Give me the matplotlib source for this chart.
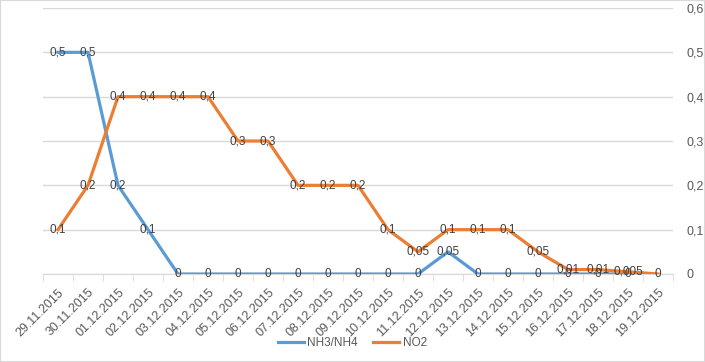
import matplotlib.pyplot as plt
from matplotlib.patches import Rectangle

# data
dates = ['29.11.2015', '30.11.2015', '01.12.2015', '02.12.2015', '03.12.2015',
         '04.12.2015', '05.12.2015', '06.12.2015', '07.12.2015', '08.12.2015',
         '09.12.2015', '10.12.2015', '11.12.2015', '12.12.2015', '13.12.2015',
         '14.12.2015', '15.12.2015', '16.12.2015', '17.12.2015', '18.12.2015',
         '19.12.2015']
nh3 = [0.5, 0.5, 0.2, 0.1, 0, 0, 0, 0, 0, 0, 0, 0, 0, 0.05, 0, 0, 0, 0, 0, 0]
no2 = [0.1, 0.2, 0.4, 0.4, 0.4, 0.4, 0.3, 0.3, 0.2, 0.2, 0.2, 0.1, 0.05,
       0.1, 0.1, 0.1, 0.05, 0.01, 0.01, 0.005, 0]
yticks = [0, 0.1, 0.2, 0.3, 0.4, 0.5, 0.6]

blue = '#5B9BD5'
orange = '#ED7D31'
txt = '#404040'
plt.rcParams['font.family'] = ['Liberation Sans', 'DejaVu Sans']


def fmt(v):
    s = ('%g' % v).replace('.', ',')
    return s


fig = plt.figure(figsize=(7.05, 3.62), dpi=100)
fig.patches.append(Rectangle((0, 0), 1, 1, transform=fig.transFigure,
                             fill=False, edgecolor='#D9D9D9', lw=1.5))
ax = fig.add_axes([43 / 705, 1 - 274 / 362, 630 / 705, 266 / 362])

ax.plot(range(len(nh3)), nh3, color=blue, lw=2.3, label='NH3/NH4',
        solid_joinstyle='round', zorder=3)
ax.plot(range(len(no2)), no2, color=orange, lw=2.3, label='NO2',
        solid_joinstyle='round', zorder=3)

# data labels sit centred on the points, like the original
for i, v in enumerate(nh3):
    ax.text(i, v, fmt(v), ha='center', va='center', fontsize=8.5, color=txt, zorder=4)
for i, v in enumerate(no2):
    ax.text(i, v, fmt(v), ha='center', va='center', fontsize=8.5, color=txt, zorder=4)

ax.set_xlim(-0.5, len(dates) - 0.5)
ax.set_ylim(0, 0.6)
ax.set_yticks(yticks)
ax.set_yticklabels([fmt(t) for t in yticks])
ax.yaxis.tick_right()
ax.tick_params(axis='y', length=0, pad=10, labelsize=9, labelcolor='#595959')
ax.grid(axis='y', color='#D9D9D9', lw=1)
ax.set_axisbelow(True)

ax.set_xticks(range(len(dates)))
ax.set_xticklabels(dates, rotation=45, ha='right', rotation_mode='anchor',
                   fontsize=9, color='#595959')
ax.set_xticks([i - 0.5 for i in range(len(dates) + 1)], minor=True)
ax.tick_params(axis='x', which='major', length=0, pad=9)
ax.tick_params(axis='x', which='minor', length=5, color='#D9D9D9')

for s in ['top', 'left', 'right']:
    ax.spines[s].set_visible(False)
ax.spines['bottom'].set_color('#D9D9D9')

fig.legend(loc='center', bbox_to_anchor=(0.5, 0.052), ncol=2, frameon=False,
           fontsize=8.5, handlelength=2.2, handletextpad=0.3, columnspacing=1.3,
           labelcolor='#595959')

fig.savefig('out.png', dpi=100)
